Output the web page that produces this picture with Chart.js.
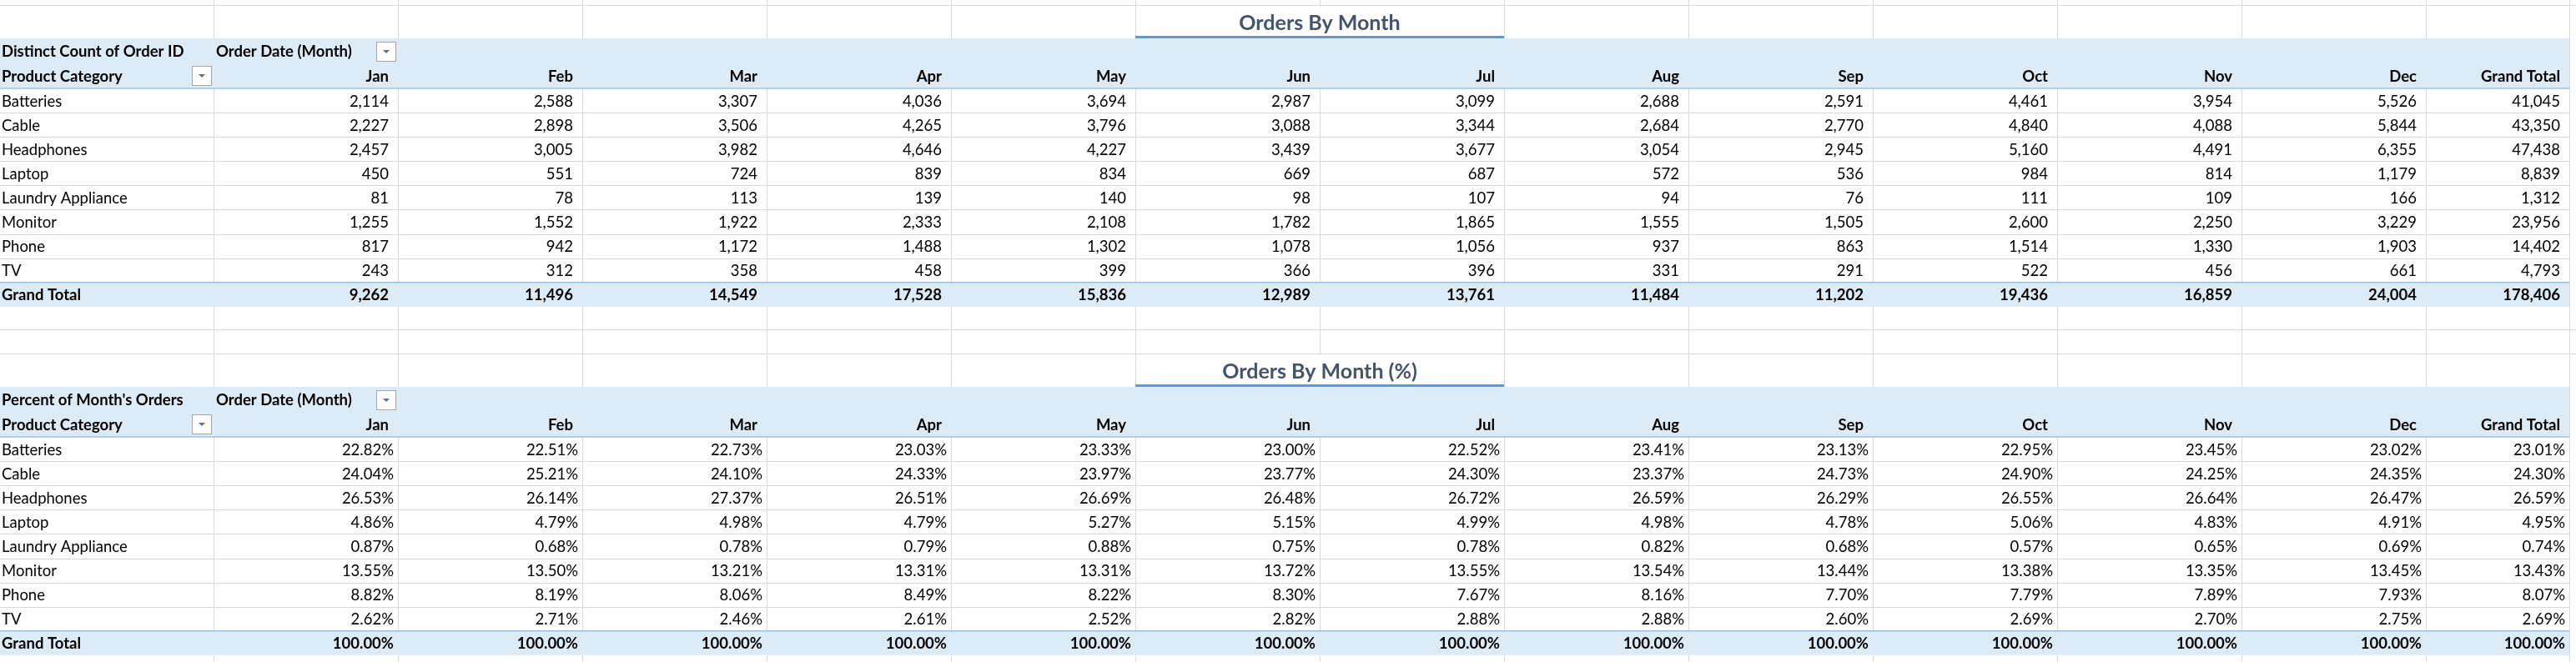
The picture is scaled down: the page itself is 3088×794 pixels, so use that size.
<!DOCTYPE html>
<html>
<head>
<meta charset="utf-8">
<script src="https://cdn.jsdelivr.net/npm/chart.js@4"></script>
<style>
  html, body { margin: 0; padding: 0; background: #fff; }
  #wrap { width: 3088px; height: 794px; }
</style>
</head>
<body>
<div id="wrap"><canvas id="pivot"></canvas></div>
<script>
/* Orders by month pivot, drawn on a Chart.js canvas */

const months = ['Jan', 'Feb', 'Mar', 'Apr', 'May', 'Jun', 'Jul', 'Aug', 'Sep', 'Oct', 'Nov', 'Dec'];
const categories = ['Batteries', 'Cable', 'Headphones', 'Laptop', 'Laundry Appliance', 'Monitor', 'Phone', 'TV'];

const batteries  = [2114, 2588, 3307, 4036, 3694, 2987, 3099, 2688, 2591, 4461, 3954, 5526, 41045];
const cable      = [2227, 2898, 3506, 4265, 3796, 3088, 3344, 2684, 2770, 4840, 4088, 5844, 43350];
const headphones = [2457, 3005, 3982, 4646, 4227, 3439, 3677, 3054, 2945, 5160, 4491, 6355, 47438];
const laptop     = [450, 551, 724, 839, 834, 669, 687, 572, 536, 984, 814, 1179, 8839];
const laundry    = [81, 78, 113, 139, 140, 98, 107, 94, 76, 111, 109, 166, 1312];
const monitor    = [1255, 1552, 1922, 2333, 2108, 1782, 1865, 1555, 1505, 2600, 2250, 3229, 23956];
const phone      = [817, 942, 1172, 1488, 1302, 1078, 1056, 937, 863, 1514, 1330, 1903, 14402];
const tv         = [243, 312, 358, 458, 399, 366, 396, 331, 291, 522, 456, 661, 4793];
const grandTotal = [9262, 11496, 14549, 17528, 15836, 12989, 13761, 11484, 11202, 19436, 16859, 24004, 178406];

const pctBatteries  = [22.82, 22.51, 22.73, 23.03, 23.33, 23.00, 22.52, 23.41, 23.13, 22.95, 23.45, 23.02, 23.01];
const pctCable      = [24.04, 25.21, 24.10, 24.33, 23.97, 23.77, 24.30, 23.37, 24.73, 24.90, 24.25, 24.35, 24.30];
const pctHeadphones = [26.53, 26.14, 27.37, 26.51, 26.69, 26.48, 26.72, 26.59, 26.29, 26.55, 26.64, 26.47, 26.59];
const pctLaptop     = [4.86, 4.79, 4.98, 4.79, 5.27, 5.15, 4.99, 4.98, 4.78, 5.06, 4.83, 4.91, 4.95];
const pctLaundry    = [0.87, 0.68, 0.78, 0.79, 0.88, 0.75, 0.78, 0.82, 0.68, 0.57, 0.65, 0.69, 0.74];
const pctMonitor    = [13.55, 13.50, 13.21, 13.31, 13.31, 13.72, 13.55, 13.54, 13.44, 13.38, 13.35, 13.45, 13.43];
const pctPhone      = [8.82, 8.19, 8.06, 8.49, 8.22, 8.30, 7.67, 8.16, 7.70, 7.79, 7.89, 7.93, 8.07];
const pctTV         = [2.62, 2.71, 2.46, 2.61, 2.52, 2.82, 2.88, 2.88, 2.60, 2.69, 2.70, 2.75, 2.69];
const pctTotal      = [100, 100, 100, 100, 100, 100, 100, 100, 100, 100, 100, 100, 100];

const countRows = [batteries, cable, headphones, laptop, laundry, monitor, phone, tv];
const pctRows = [pctBatteries, pctCable, pctHeadphones, pctLaptop, pctLaundry, pctMonitor, pctPhone, pctTV];

/* ── SHEET GEOMETRY (scale units = sheet pixels) ────────────── */
const COL_A = 256, COL_W = 221, COL_GT = 172;
const ROW_H = 29.1;
const colEdges = [0];
colEdges.push(COL_A);
for (let i = 0; i < 12; i++) colEdges.push(COL_A + COL_W * (i + 1));
colEdges.push(colEdges[colEdges.length - 1] + COL_GT);

const FONT = 'Lato, "DejaVu Sans", sans-serif';
const FILL = '#ddebf7';
const BLUE_LINE = '#9bc2e6';
const GRID = '#d9d9d9';

const fmtCount = v => v.toLocaleString('en-US');
const fmtPct = v => v.toFixed(2) + '%';

const tables = [
  { top: 46, title: 'Orders By Month', corner: 'Distinct Count of Order ID', rows: countRows, total: grandTotal, fmt: fmtCount, pad: 11 },
  { top: 464, title: 'Orders By Month (%)', corner: "Percent of Month's Orders", rows: pctRows, total: pctTotal, fmt: fmtPct, pad: 5 }
];

function dropBox(ctx, x, y, px, py) {
  const l = x.getPixelForValue(px), t = y.getPixelForValue(py);
  ctx.fillStyle = '#ffffff';
  ctx.fillRect(l, t, 24, 24);
  ctx.strokeStyle = '#a6a6a6';
  ctx.lineWidth = 1;
  ctx.strokeRect(l + 0.5, t + 0.5, 23, 23);
  ctx.fillStyle = '#6d6d6d';
  ctx.beginPath();
  ctx.moveTo(l + 8, t + 10);
  ctx.lineTo(l + 16, t + 10);
  ctx.lineTo(l + 12, t + 14);
  ctx.closePath();
  ctx.fill();
}

const sheetPlugin = {
  id: 'sheet',
  beforeDatasetsDraw(chart) {
    const { ctx, scales: { x, y } } = chart;
    const X = v => x.getPixelForValue(v), Y = v => y.getPixelForValue(v);
    const right = colEdges[colEdges.length - 1];
    ctx.save();

    // background gridlines
    ctx.strokeStyle = GRID;
    ctx.lineWidth = 1;
    const hLines = [6, 395, 424, 794];
    hLines.forEach(h => {
      ctx.beginPath(); ctx.moveTo(0, Y(h) + 0.5); ctx.lineTo(X(3088), Y(h) + 0.5); ctx.stroke();
    });
    colEdges.slice(1).forEach(c => {
      ctx.beginPath(); ctx.moveTo(X(c) + 0.5, Y(0)); ctx.lineTo(X(c) + 0.5, Y(794)); ctx.stroke();
    });

    tables.forEach(t => {
      const dataTop = t.top + 60;
      const gtTop = dataTop + ROW_H * 8;
      // header + total fills
      ctx.fillStyle = FILL;
      ctx.fillRect(X(0), Y(t.top), X(right) - X(0), Y(dataTop) - Y(t.top));
      ctx.fillRect(X(0), Y(gtTop), X(right) - X(0), Y(gtTop + ROW_H) - Y(gtTop));
      // row lines in data area
      ctx.strokeStyle = GRID;
      for (let r = 1; r < 8; r++) {
        const yy = Math.round(Y(dataTop + ROW_H * r)) + 0.5;
        ctx.beginPath(); ctx.moveTo(X(0), yy); ctx.lineTo(X(right), yy); ctx.stroke();
      }
      // blue rules
      ctx.strokeStyle = BLUE_LINE;
      ctx.lineWidth = 1.5;
      [dataTop, gtTop].forEach(v => {
        ctx.beginPath(); ctx.moveTo(X(0), Y(v)); ctx.lineTo(X(right), Y(v)); ctx.stroke();
      });
      ctx.lineWidth = 1;
      // title with underline over Jun–Jul
      const tl = colEdges[6], tr = colEdges[8];
      ctx.fillStyle = '#ffffff';
      ctx.fillRect(X(tl) + 1, Y(t.top - 38), X(tr) - X(tl) - 1, 37);
      ctx.fillStyle = '#44546a';
      ctx.font = 'bold 25px ' + FONT;
      ctx.textAlign = 'center';
      ctx.textBaseline = 'middle';
      ctx.fillText(t.title, X((tl + tr) / 2), Y(t.top - 18));
      ctx.fillStyle = '#5b9bd5';
      ctx.fillRect(X(tl), Y(t.top) - 3, X(tr) - X(tl), 3);
      // drop-down buttons
      dropBox(ctx, x, y, 451, t.top + 4);
      dropBox(ctx, x, y, 230, t.top + 33);
    });
    ctx.restore();
  },
  afterDatasetsDraw(chart) {
    const { ctx, scales: { x, y } } = chart;
    const X = v => x.getPixelForValue(v), Y = v => y.getPixelForValue(v);
    ctx.save();
    ctx.fillStyle = '#000000';
    ctx.textBaseline = 'middle';
    tables.forEach(t => {
      const mid = r => Y(t.top + 60 + ROW_H * r + ROW_H / 2 + 1);
      ctx.font = 'bold 18.5px ' + FONT;
      ctx.textAlign = 'left';
      ctx.fillText(t.corner, X(2), Y(t.top + 16));
      ctx.fillText('Order Date (Month)', X(259), Y(t.top + 16));
      ctx.fillText('Product Category', X(2), Y(t.top + 46));
      ctx.textAlign = 'right';
      months.concat(['Grand Total']).forEach((m, i) => {
        ctx.fillText(m, X(colEdges[i + 2]) - 11, Y(t.top + 46));
      });
      // data rows
      categories.forEach((c, r) => {
        ctx.font = '18.5px ' + FONT;
        ctx.textAlign = 'left';
        ctx.fillText(c, X(2), mid(r));
        ctx.textAlign = 'right';
        t.rows[r].forEach((v, i) => ctx.fillText(t.fmt(v), X(colEdges[i + 2]) - t.pad, mid(r)));
      });
      ctx.font = 'bold 18.5px ' + FONT;
      ctx.textAlign = 'left';
      ctx.fillText('Grand Total', X(2), mid(8));
      ctx.textAlign = 'right';
      t.total.forEach((v, i) => ctx.fillText(t.fmt(v), X(colEdges[i + 2]) - t.pad, mid(8)));
    });
    ctx.restore();
  }
};

new Chart(document.getElementById('pivot'), {
  type: 'scatter',
  data: { datasets: [{ data: [], pointRadius: 0 }] },
  options: {
    responsive: true,
    maintainAspectRatio: false,
    animation: false,
    events: [],
    layout: { padding: 0 },
    plugins: { legend: { display: false }, tooltip: { enabled: false } },
    scales: {
      x: { type: 'linear', min: 0, max: 3088, display: false },
      y: { type: 'linear', min: 0, max: 794, reverse: true, display: false }
    }
  },
  plugins: [sheetPlugin]
});
</script>
</body>
</html>
